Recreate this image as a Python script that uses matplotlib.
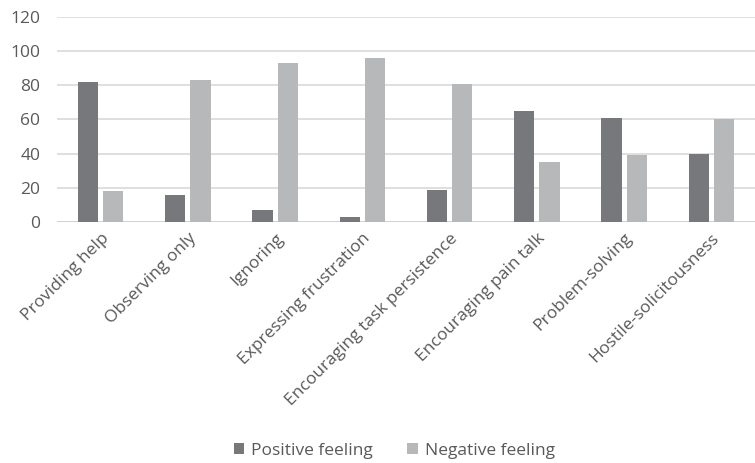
import numpy as np
import matplotlib.pyplot as plt

plt.rcParams['font.family'] = ['Open Sans', 'DejaVu Sans']

categories = ["Providing help", "Observing only", "Ignoring", "Expressing frustration",
              "Encouraging task persistence", "Encouraging pain talk", "Problem-solving",
              "Hostile-solicitousness"]
positive = [82, 16, 7, 3, 19, 65, 61, 40]
negative = [18, 83, 93, 96, 81, 35, 39, 60]

dark = "#77787b"
light = "#b7b8ba"
text_col = "#595959"

fig = plt.figure(figsize=(7.55, 4.63), dpi=100)
ax = fig.add_axes([0.0755, 0.5205, 0.9245, 0.443])

x = np.arange(len(categories))
w = 0.23
ax.bar(x - w / 2 - 0.03, positive, width=w, color=dark, label="Positive feeling", zorder=3)
ax.bar(x + w / 2 + 0.03, negative, width=w, color=light, label="Negative feeling", zorder=3)

ax.set_xlim(-0.5, len(categories) - 0.5)
ax.set_ylim(0, 120)
ax.set_yticks(range(0, 121, 20))
ax.yaxis.grid(True, color="#d9d9d9", linewidth=1.2, zorder=0)
for s in ax.spines.values():
    s.set_visible(False)
ax.axhline(0, color="#d0d0d0", linewidth=1.2, zorder=2)

ax.tick_params(axis="both", length=0, colors=text_col, labelsize=12.5)
ax.tick_params(axis="y", pad=12)
ax.tick_params(axis="x", pad=6)
ax.set_xticks(x)
ax.set_xticklabels(categories, rotation=45, ha="right", rotation_mode="anchor")

fig.legend(loc="center", bbox_to_anchor=(0.522, 0.026), ncol=2, frameon=False,
           fontsize=12.5, labelcolor=text_col, handlelength=0.6, handleheight=0.6,
           handletextpad=0.4, columnspacing=2.0)

fig.savefig("out.png", dpi=100)
